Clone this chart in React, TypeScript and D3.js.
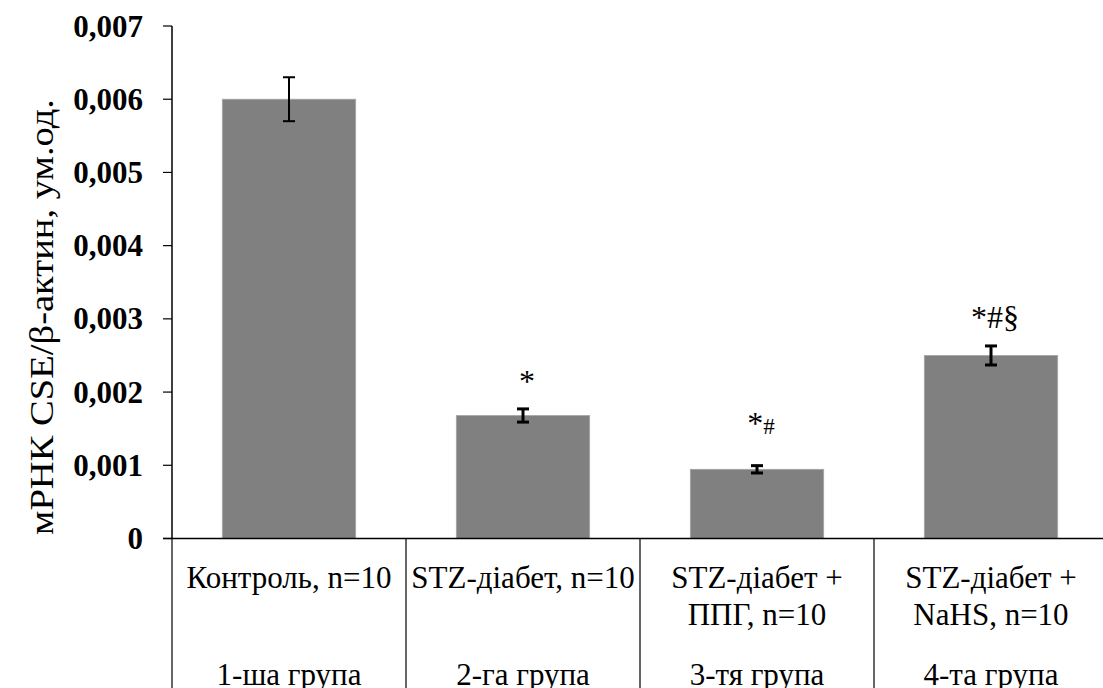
import React from "react";
import * as d3 from "d3";

// Group labels (two-level category axis)
const groupNames = ["1-ша група", "2-га група", "3-тя група", "4-та група"];
const treatmentLines = [
  ["Контроль, n=10"],
  ["STZ-діабет, n=10"],
  ["STZ-діабет +", "ППГ, n=10"],
  ["STZ-діабет +", "NaHS, n=10"],
];

// mRNA CSE / β-actin ratio, mean and error
const means = [0.006, 0.00168, 0.000945, 0.0025];
const errors = [0.0003, 0.00009, 0.00005, 0.00013];

// Significance marks: main part and subscript part
const markMain = ["", "*", "*", "*#§"];
const markSub = ["", "", "#", ""];

const yTicks = [0, 0.001, 0.002, 0.003, 0.004, 0.005, 0.006, 0.007];
const yTitle = "мРНК CSE/β-актин, ум.од.";

const W = 1103;
const H = 688;
const FONT = "Liberation Serif, Times New Roman, DejaVu Serif, serif";

// vertical gap from top of the error bar to the mark baseline
const markGap = [0, 17, 32, 18];

export default function App() {
  const plotLeft = 172;
  const plotRight = 1108;
  const yTop = 26;
  const yBottom = 538.5;

  const x = d3
    .scaleBand<string>()
    .domain(groupNames)
    .range([plotLeft, plotRight])
    .paddingInner(0.43)
    .paddingOuter(0.215);

  const y = d3.scaleLinear().domain([0, 0.007]).range([yBottom, yTop]);

  const step = x.step();
  const bw = x.bandwidth();
  const boundaries = d3.range(groupNames.length + 1).map((i) => plotLeft + i * step);
  const fmt = (v: number) => (v === 0 ? "0" : d3.format(".3f")(v).replace(".", ","));
  const txt = { fontFamily: FONT };

  return (
    <svg
      width={W}
      height={H}
      style={{ position: "absolute", left: 0, top: 0, background: "#fff", fontFamily: FONT }}
    >
      <rect x={0} y={0} width={W} height={H} fill="#fff" />

      {/* bars */}
      {groupNames.map((g, i) => (
        <rect
          key={g}
          x={x(g)!}
          y={y(means[i])}
          width={bw}
          height={y(0) - y(means[i])}
          fill="#808080"
          stroke="#a6a6a6"
          strokeWidth={0.8}
        />
      ))}

      {/* error bars */}
      {groupNames.map((g, i) => {
        const cx = x(g)! + bw / 2;
        const t = y(means[i] + errors[i]);
        const b = y(means[i] - errors[i]);
        const sw = i === 0 ? 2 : 3;
        return (
          <g key={"e" + g} stroke="#000" strokeWidth={sw}>
            <line x1={cx} x2={cx} y1={t} y2={b} />
            <line x1={cx - 6} x2={cx + 6} y1={t} y2={t} />
            <line x1={cx - 6} x2={cx + 6} y1={b} y2={b} />
          </g>
        );
      })}

      {/* significance marks */}
      {groupNames.map((g, i) => {
        if (!markMain[i]) return null;
        const cx = x(g)! + bw / 2 + 4;
        const by = y(means[i] + errors[i]) - markGap[i];
        return (
          <text key={"m" + g} x={cx} y={by} textAnchor="middle" fontSize={32} fill="#000" style={txt}>
            {markMain[i]}
            {markSub[i] && <tspan fontSize={23}>{markSub[i]}</tspan>}
          </text>
        );
      })}

      {/* y axis */}
      <line x1={plotLeft} x2={plotLeft} y1={y(0.007)} y2={y(0)} stroke="#000" strokeWidth={1.5} />
      {yTicks.map((t) => (
        <g key={"t" + t}>
          <line x1={plotLeft - 9} x2={plotLeft} y1={y(t)} y2={y(t)} stroke="#000" strokeWidth={1.2} />
          <text
            x={143}
            y={y(t) + 10.5}
            textAnchor="end"
            fontSize={31}
            fontWeight="bold"
            fill="#000"
            style={txt}
          >
            {fmt(t)}
          </text>
        </g>
      ))}

      {/* y title */}
      <text
        transform={`translate(53, 317) rotate(-90)`}
        textAnchor="middle"
        fontSize={34}
        textLength={436}
        lengthAdjust="spacingAndGlyphs"
        fill="#000"
        style={txt}
      >
        {yTitle}
      </text>

      {/* x axis and category table */}
      <line x1={plotLeft - 9} x2={W} y1={y(0)} y2={y(0)} stroke="#000" strokeWidth={1.5} />
      {boundaries.map((bx, i) => (
        <line key={"b" + i} x1={bx} x2={bx} y1={y(0)} y2={H} stroke="#000" strokeWidth={1.2} />
      ))}
      {groupNames.map((g, i) => {
        const cx = plotLeft + (i + 0.5) * step;
        return (
          <g key={"c" + g} fill="#000">
            {treatmentLines[i].map((ln, j) => (
              <text key={j} x={cx} y={588 + j * 37} textAnchor="middle" fontSize={31} style={txt}>
                {ln}
              </text>
            ))}
            <text x={cx} y={685} textAnchor="middle" fontSize={31} style={txt}>
              {g}
            </text>
          </g>
        );
      })}
    </svg>
  );
}
